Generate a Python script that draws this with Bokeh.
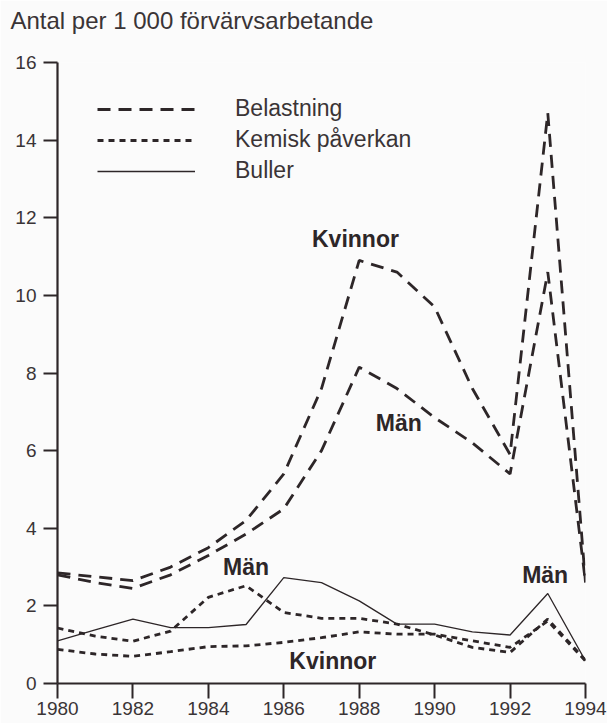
from bokeh.plotting import figure
from bokeh.models import Range1d, FixedTicker, Legend, LegendItem, Label, Title
from bokeh.embed import file_html
from bokeh.resources import INLINE

# ---- data ----
years = [1980, 1981, 1982, 1983, 1984, 1985, 1986, 1987, 1988, 1989, 1990, 1991, 1992, 1993, 1994]
belastning_kvinnor = [2.85, 2.75, 2.65, 3.0, 3.5, 4.2, 5.4, 7.6, 10.9, 10.6, 9.7, 7.6, 5.9, 14.7, 2.6]
belastning_man = [2.8, 2.6, 2.45, 2.8, 3.3, 3.85, 4.5, 6.0, 8.15, 7.6, 6.85, 6.2, 5.4, 10.6, 2.6]
kemisk_man = [1.43, 1.22, 1.09, 1.35, 2.22, 2.52, 1.83, 1.68, 1.68, 1.53, 1.25, 0.93, 0.80, 1.66, 0.60]
kemisk_kvinnor = [0.88, 0.76, 0.70, 0.82, 0.95, 0.97, 1.06, 1.18, 1.33, 1.27, 1.27, 1.10, 0.93, 1.61, 0.58]
buller = [1.10, 1.38, 1.66, 1.44, 1.44, 1.52, 2.73, 2.60, 2.13, 1.53, 1.53, 1.33, 1.25, 2.32, 0.58]

x_ticks = [1980, 1982, 1984, 1986, 1988, 1990, 1992, 1994]
y_ticks = [0, 2, 4, 6, 8, 10, 12, 14, 16]
series_names = ["Belastning", "Kemisk påverkan", "Buller"]
title_text = "Antal per 1 000 förvärvsarbetande"
annotations = [
    ("Kvinnor", 1987.9, 11.45),
    ("Män", 1989.05, 6.7),
    ("Män", 1985.0, 3.0),
    ("Män", 1992.93, 2.8),
    ("Kvinnor", 1987.3, 0.57),
]

INK = "#2d2628"
TXT = "#3a3436"
FONT = "Liberation Sans"

p = figure(title=None, width=607, height=723, x_range=Range1d(1980, 1994), y_range=Range1d(0, 16),
           output_backend="svg", toolbar_location=None,
           min_border_left=57, min_border_right=22, min_border_top=62, min_border_bottom=40,
           background_fill_color="#fbfbfb", border_fill_color="#fbfbfb")
p.outline_line_color = None
p.grid.visible = False

# spacer panel (closest to the plot) then the axis title above it
p.add_layout(Title(text=" ", text_font_size="1px", standoff=24), "above")
p.add_layout(Title(text=title_text, align="left", vertical_align="top", offset=-47,
                   text_font=FONT, text_font_size="24px", text_font_style="normal",
                   text_color=TXT, standoff=0), "above")

for ax in (p.xaxis[0], p.yaxis[0]):
    ax.axis_line_color = INK
    ax.axis_line_width = 2.2
    ax.major_tick_line_color = INK
    ax.major_tick_line_width = 2
    ax.major_tick_in = 0
    ax.minor_tick_line_color = None
    ax.major_label_text_font = FONT
    ax.major_label_text_font_size = "19px"
    ax.major_label_text_color = TXT

p.xaxis.ticker = FixedTicker(ticks=x_ticks)
p.yaxis.ticker = FixedTicker(ticks=y_ticks)
p.xaxis.major_tick_out = 15
p.xaxis.major_label_standoff = 3
p.yaxis.major_tick_out = 14
p.yaxis.major_label_standoff = 7

r_bk = p.line(years, belastning_kvinnor, line_color=INK, line_width=2.8, line_dash="13 8")
r_bm = p.line(years, belastning_man, line_color=INK, line_width=2.8, line_dash="13 8")
r_km = p.line(years, kemisk_man, line_color=INK, line_width=2.8, line_dash="6 5")
r_kk = p.line(years, kemisk_kvinnor, line_color=INK, line_width=2.8, line_dash="6 5")
r_bu = p.line(years, buller, line_color=INK, line_width=1.3)

legend = Legend(items=[LegendItem(label=series_names[0], renderers=[r_bk]),
                       LegendItem(label=series_names[1], renderers=[r_km]),
                       LegendItem(label=series_names[2], renderers=[r_bu])],
                location=(40, 499), glyph_width=98, glyph_height=24, label_height=24,
                spacing=4, padding=0, margin=0, label_standoff=40,
                label_text_font=FONT, label_text_font_size="23px", label_text_color=TXT,
                border_line_alpha=0, background_fill_alpha=0)
p.add_layout(legend)

for txt, x, y in annotations:
    p.add_layout(Label(x=x, y=y, text=txt, text_align="center", text_baseline="middle",
                       text_font=FONT, text_font_size="23px", text_font_style="bold",
                       text_color=INK))

open("out.html", "w").write(file_html(p, INLINE))
